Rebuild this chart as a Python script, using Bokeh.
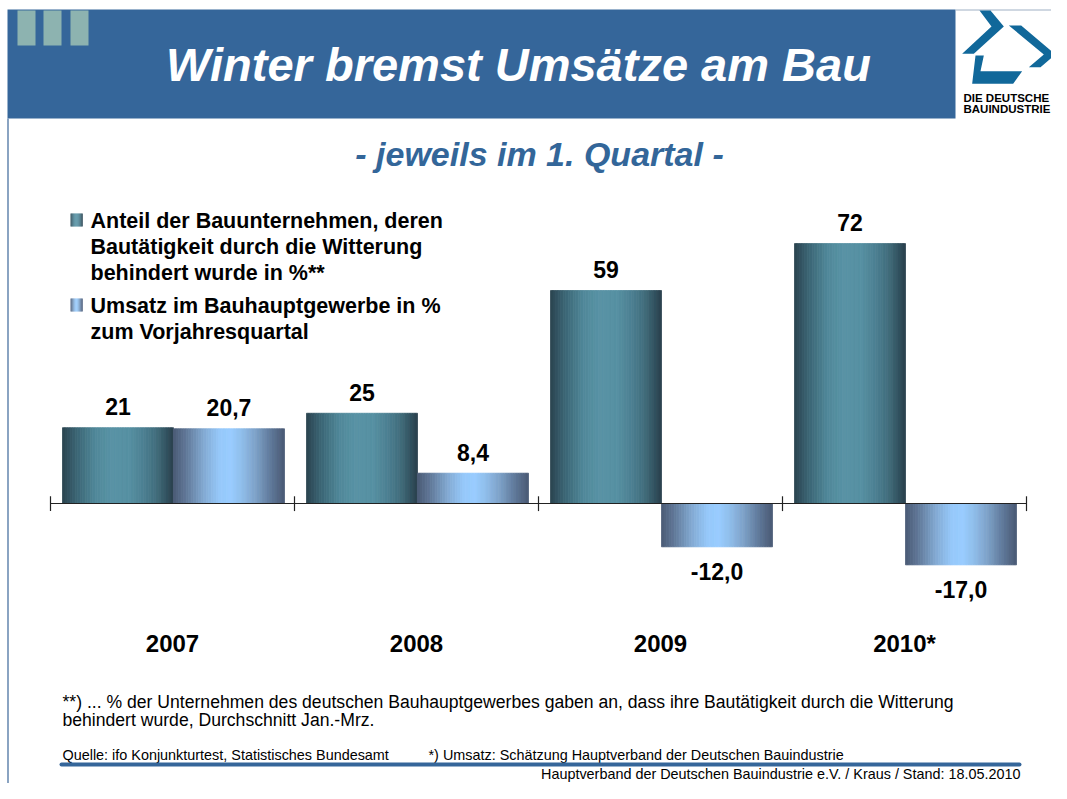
from bokeh.plotting import figure
from bokeh.models import Range1d, ColumnDataSource
from bokeh.core.properties import value
from bokeh.embed import file_html
from bokeh.resources import INLINE

# ---------------- data ----------------
years = ["2007", "2008", "2009", "2010*"]
anteil_behindert = [21, 25, 59, 72]                 # % der Bauunternehmen, Witterung behindert
umsatz_vorjahr = [20.7, 8.4, -12.0, -17.0]          # Umsatz in % zum Vorjahresquartal
legend_anteil = ["Anteil der Bauunternehmen, deren",
                 "Bautätigkeit durch die Witterung",
                 "behindert wurde in %**"]
legend_umsatz = ["Umsatz im Bauhauptgewerbe in %",
                 "zum Vorjahresquartal"]
title = "Winter bremst Umsätze am Bau"
subtitle = "- jeweils im 1. Quartal -"
footnote = ["**) ... % der Unternehmen des deutschen Bauhauptgewerbes gaben an, dass ihre Bautätigkeit durch die Witterung",
            "behindert wurde, Durchschnitt Jan.-Mrz."]
source_1 = "Quelle: ifo Konjunkturtest, Statistisches Bundesamt"
source_2 = "*) Umsatz: Schätzung Hauptverband der Deutschen Bauindustrie"
stand = "Hauptverband der Deutschen Bauindustrie e.V. / Kraus / Stand: 18.05.2010"
logo_text = ["DIE DEUTSCHE", "BAUINDUSTRIE"]

# ---------------- layout ----------------
W, H = 1051, 783

X0 = 50.0        # left boundary of first category (px)
CW = 244.0       # category width in px
Y0 = 503.0       # zero line (px from top)
PPU = 3.61       # px per percentage point

BAR_GAP = 12 / CW
BAR_W = 111 / CW
N = 44

BLUE = "#35669a"
FONT = value("Liberation Sans")

TEAL = [(0.0, "#2a434f"), (0.12, "#3a6372"), (0.30, "#508899"), (0.45, "#5993a5"),
        (0.60, "#5690a2"), (0.72, "#4d8193"), (0.85, "#416d7c"), (0.93, "#335563"), (1.0, "#2b404c")]
LIGHT = [(0.0, "#4a5a75"), (0.12, "#617999"), (0.28, "#83abd4"), (0.42, "#96c8fa"),
         (0.52, "#99ccff"), (0.62, "#8fbdea"), (0.75, "#7c9fc6"), (0.88, "#5f7899"), (1.0, "#4a5a75")]


def interp(stops, t):
    for (p0, c0), (p1, c1) in zip(stops, stops[1:]):
        if p0 <= t <= p1:
            f = (t - p0) / (p1 - p0)
            a = [int(c0[i:i + 2], 16) for i in (1, 3, 5)]
            b = [int(c1[i:i + 2], 16) for i in (1, 3, 5)]
            return "#%02x%02x%02x" % tuple(round(x + (y - x) * f) for x, y in zip(a, b))
    return stops[-1][1]


p = figure(width=W, height=H, x_range=Range1d(0, W), y_range=Range1d(H, 0),
           output_backend="svg", toolbar_location=None,
           x_axis_type=None, y_axis_type=None, min_border=0)
p.outline_line_color = None
p.background_fill_color = "white"
p.border_fill_color = "white"
p.extra_x_ranges = {"cx": Range1d(-X0 / CW, (W - X0) / CW)}
p.extra_y_ranges = {"vy": Range1d((Y0 - H) / PPU, Y0 / PPU)}

# ---------------- header ----------------
p.quad(left=7, right=955, top=9, bottom=118, fill_color=BLUE, line_color=None)
for l in (17, 43, 70):
    p.quad(left=l, right=l + 18, top=10, bottom=45, fill_color="#8db3b0", line_color=None)
p.segment(x0=955, y0=9.5, x1=W, y1=9.5, line_color="#9fb0c4", line_width=1)
p.segment(x0=7.5, y0=118, x1=7.5, y1=H, line_color="#6d8db3", line_width=1.6)
p.text(x=[518], y=[64], text=[title], text_font=FONT, text_font_style="bold italic",
       text_font_size="47px", text_color="white", text_align="center", text_baseline="middle")

# logo
def lp(zx, zy):
    return (940 + zx / 3, zy / 3)
shapes = [
    [(117, 30), (150, 30), (190, 78), (100, 160), (65, 160), (153, 78)],
    [(205, 75), (242, 75), (345, 162), (300, 200), (265, 200), (310, 162)],
    [(105, 165), (130, 165), (120, 212), (245, 212), (218, 250), (95, 250)],
]
for s in shapes:
    pts = [lp(a, b) for a, b in s]
    p.patch(x=[q[0] for q in pts], y=[q[1] for q in pts], fill_color="#11689a", line_color=None)
p.text(x=[963, 963], y=[97.5, 108.5], text=logo_text,
       text_font=FONT, text_font_style="bold", text_font_size="11.5px", text_color="black",
       text_align="left", text_baseline="middle")

# subtitle
p.text(x=[539], y=[153], text=[subtitle], text_font=FONT, text_font_style="bold italic",
       text_font_size="34px", text_color="#336699", text_align="center", text_baseline="middle")

# ---------------- bars ----------------
def strip_source(values, left_off, stops):
    xs, tops, cols = [], [], []
    for i, v in enumerate(values):
        for k in range(N):
            xs.append(i + left_off + (k + 0.5) * BAR_W / N)
            tops.append(v)
            cols.append(interp(stops, (k + 0.5) / N))
    return ColumnDataSource(dict(x=xs, top=tops, color=cols))

for vals, off, stops in ((anteil_behindert, BAR_GAP, TEAL), (umsatz_vorjahr, BAR_GAP + BAR_W, LIGHT)):
    p.vbar(x="x", top="top", bottom=0, width=BAR_W / N, source=strip_source(vals, off, stops),
           fill_color="color", line_color="color", line_width=0.8,
           x_range_name="cx", y_range_name="vy")

# zero axis with ticks at category boundaries
n_cat = len(years)
p.segment(x0=0, y0=0, x1=n_cat, y1=0, line_color="#222222", line_width=1.2,
          x_range_name="cx", y_range_name="vy")
p.segment(x0=list(range(n_cat + 1)), y0=[-2.1] * (n_cat + 1), x1=list(range(n_cat + 1)), y1=[2.0] * (n_cat + 1),
          line_color="#222222", line_width=1.2, x_range_name="cx", y_range_name="vy")

# value labels
def lab_src(values, off, fmt):
    return ColumnDataSource(dict(
        x=[i + off + BAR_W / 2 for i in range(len(values))],
        y=values,
        t=[fmt(v) for v in values],
        yo=[-21 if v >= 0 else 25 for v in values]))

for vals, off, fmt in ((anteil_behindert, BAR_GAP, lambda v: f"{v:.0f}"),
                       (umsatz_vorjahr, BAR_GAP + BAR_W, lambda v: f"{v:.1f}".replace(".", ","))):
    p.text(x="x", y="y", text="t", y_offset="yo", source=lab_src(vals, off, fmt),
           text_font=FONT, text_font_style="bold", text_font_size="23px", text_color="black",
           text_align="center", text_baseline="middle", x_range_name="cx", y_range_name="vy")

# category labels
p.text(x=[i + 0.5 for i in range(n_cat)], y=[643] * n_cat, text=years,
       text_font=FONT, text_font_style="bold", text_font_size="24px", text_color="black",
       text_align="center", text_baseline="middle", x_range_name="cx")

# ---------------- legend ----------------
def legend_square(top, stops, n=12):
    for k in range(n):
        l = 70 + k * 12 / n
        p.quad(left=l, right=l + 12 / n + 0.3, top=top, bottom=top + 13,
               fill_color=interp(stops, (k + 0.5) / n), line_color=None)

legend_square(213, TEAL)
legend_square(298, LIGHT)
p.text(x=[90] * 3, y=[220, 246, 272], text=legend_anteil,
       text_font=FONT, text_font_style="bold", text_font_size="21.5px", text_color="black",
       text_align="left", text_baseline="middle")
p.text(x=[90] * 2, y=[305, 331], text=legend_umsatz,
       text_font=FONT, text_font_style="bold", text_font_size="21.5px", text_color="black",
       text_align="left", text_baseline="middle")

# ---------------- footnotes ----------------
p.text(x=[62] * 2, y=[701, 719], text=footnote, text_font=FONT,
       text_font_size="17.6px", text_color="black", text_align="left", text_baseline="middle")
p.text(x=[62, 428], y=[754] * 2, text=[source_1, source_2], text_font=FONT,
       text_font_size="14.4px", text_color="black", text_align="left", text_baseline="middle")
p.segment(x0=61, y0=764, x1=1019, y1=764, line_color=BLUE, line_width=4, line_cap="round")
p.text(x=[1020], y=[773], text=[stand], text_font=FONT,
       text_font_size="14.4px", text_color="black", text_align="right", text_baseline="middle")

open("out.html", "w").write(file_html(p, INLINE))
